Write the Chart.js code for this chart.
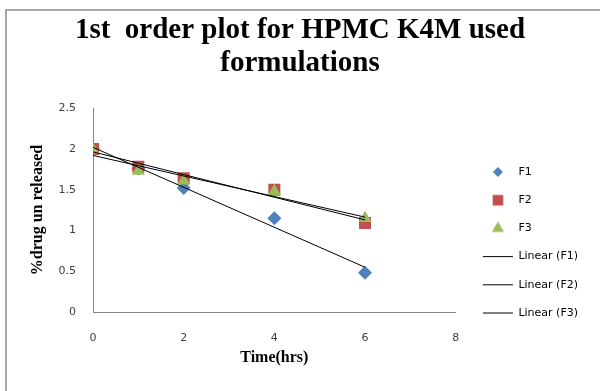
<!DOCTYPE html>
<html>
<head>
<meta charset="utf-8">
<script src="https://cdn.jsdelivr.net/npm/chart.js@4"></script>
<style>
  html, body { margin: 0; padding: 0; background: #fff; }
  #wrap { width: 600px; height: 391px; }
</style>
</head>
<body>
<div id="wrap"><canvas id="chart" width="600" height="391"></canvas></div>
<script>
// time points (hrs)
const times = [0, 1, 2, 4, 6];

// log % drug unreleased
const f1Values = [2.0, 1.76, 1.52, 1.15, 0.48];
const f2Values = [2.0, 1.78, 1.64, 1.50, 1.09];
const f3Values = [1.99, 1.73, 1.61, 1.48, 1.15];

const seriesNames = ['F1', 'F2', 'F3'];
const seriesColors = ['#4F81BD', '#C0504D', '#9BBB59'];
const seriesStyles = ['rectRot', 'rect', 'triangle'];

const titleLines = ['1st  order plot for HPMC K4M used', 'formulations'];
const xTicks = [0, 2, 4, 6, 8];
const yTicks = [0, 0.5, 1, 1.5, 2, 2.5];

// least squares fit, like excel's "Linear" trendline
function linearFit(xs, ys) {
  const n = xs.length;
  const mx = xs.reduce((a, b) => a + b, 0) / n;
  const my = ys.reduce((a, b) => a + b, 0) / n;
  let sxy = 0, sxx = 0;
  for (let i = 0; i < n; i++) {
    sxy += (xs[i] - mx) * (ys[i] - my);
    sxx += (xs[i] - mx) * (xs[i] - mx);
  }
  const slope = sxy / sxx;
  const icept = my - slope * mx;
  const x0 = xs[0], x1 = xs[n - 1];
  return [{ x: x0, y: icept + slope * x0 }, { x: x1, y: icept + slope * x1 }];
}

const allValues = [f1Values, f2Values, f3Values];
const datasets = [];

allValues.forEach((vals, i) => {
  datasets.push({
    label: seriesNames[i],
    type: 'scatter',
    data: times.map((t, j) => ({ x: t, y: vals[j] })),
    pointStyle: seriesStyles[i],
    pointRadius: [7, 8.5, 7.5][i],
    pointHoverRadius: [7, 8.5, 7.5][i],
    backgroundColor: seriesColors[i],
    borderColor: seriesColors[i],
    borderWidth: 0,
    showLine: false,
    order: 6 - i
  });
});

allValues.forEach((vals, i) => {
  datasets.push({
    label: 'Linear (' + seriesNames[i] + ')',
    type: 'line',
    data: linearFit(times, vals),
    borderColor: '#000',
    borderWidth: 1,
    pointRadius: 0,
    fill: false,
    order: 3 - i
  });
});

// small marker images for the legend
function markerImage(style, radius, color) {
  const c = document.createElement('canvas');
  c.width = 16; c.height = 16;
  const cx = c.getContext('2d');
  cx.fillStyle = color;
  cx.strokeStyle = color;
  Chart.helpers.drawPoint(cx, { pointStyle: style, radius: radius, rotation: 0, borderWidth: 0 }, 8, 8);
  return c;
}
const legendMarkers = [
  markerImage('rectRot', 5, seriesColors[0]),
  markerImage('rect', 7.5, seriesColors[1]),
  markerImage('triangle', 7, seriesColors[2])
];

const framePlugin = {
  id: 'frame',
  beforeDraw(chart) {
    const c = chart.ctx;
    c.save();
    c.fillStyle = '#a6a6a6';
    c.fillRect(5, 9, 2, chart.height - 9);
    c.fillRect(5, 9, chart.width - 5, 2);
    c.restore();
  }
};

// excel puts the legend lower than chart.js does, nudge it;
// and centre the title on the whole canvas
const layoutTweak = {
  id: 'layoutTweak',
  afterLayout(chart) {
    const lg = chart.legend;
    lg.left += 10; lg.right += 10;
    lg.top += 47; lg.bottom += 47;
    if (chart.titleBlock) {
      chart.titleBlock.left = 0;
      chart.titleBlock.right = chart.width;
    }
  }
};

const ctx = document.getElementById('chart').getContext('2d');
new Chart(ctx, {
  data: { datasets: datasets },
  plugins: [framePlugin, layoutTweak],
  options: {
    responsive: false,
    animation: false,
    layout: { padding: { left: 0, right: 22, top: 0, bottom: 0 } },
    scales: {
      x: {
        type: 'linear',
        min: 0, max: 8,
        afterBuildTicks: s => { s.ticks = xTicks.map(v => ({ value: v })); },
        afterFit: s => { s.height = 79; },
        grid: { display: false },
        border: { color: '#868686', width: 1 },
        ticks: { color: '#404040', font: { family: 'DejaVu Sans', size: 11 }, padding: 12 },
        title: {
          display: true, text: 'Time(hrs)', color: '#000', padding: 24,
          font: { family: 'Liberation Serif', size: 16, weight: 'bold' }
        }
      },
      y: {
        type: 'linear',
        min: 0, max: 2.5,
        afterBuildTicks: s => { s.ticks = yTicks.map(v => ({ value: v })); },
        afterFit: s => { s.width = 93; },
        grid: { display: false },
        border: { color: '#868686', width: 1 },
        ticks: { color: '#404040', font: { family: 'DejaVu Sans', size: 11 }, padding: 9, callback: v => String(v) },
        title: {
          display: true, text: '%drug un released', color: '#000', padding: 28,
          font: { family: 'Liberation Serif', size: 16, weight: 'bold' }
        }
      }
    },
    plugins: {
      title: {
        display: true,
        text: titleLines,
        color: '#000',
        font: { family: 'Liberation Serif', size: 29, weight: 'bold', lineHeight: 1.14 },
        padding: { top: 14, bottom: 28 }
      },
      legend: {
        display: true,
        position: 'right',
        labels: {
          usePointStyle: true,
          pointStyleWidth: 30,
          boxHeight: 12,
          padding: 17.2,
          color: '#222',
          font: { family: 'DejaVu Sans', size: 11 },
          generateLabels: chart => chart.data.datasets.map((ds, i) => ({
            text: ds.label,
            datasetIndex: i,
            fillStyle: ds.type === 'line' ? '#000' : ds.backgroundColor,
            strokeStyle: '#000',
            lineWidth: 1,
            pointStyle: i < 3 ? legendMarkers[i] : 'line',
            hidden: false
          }))
        }
      },
      tooltip: { enabled: false }
    }
  }
});
</script>
</body>
</html>
